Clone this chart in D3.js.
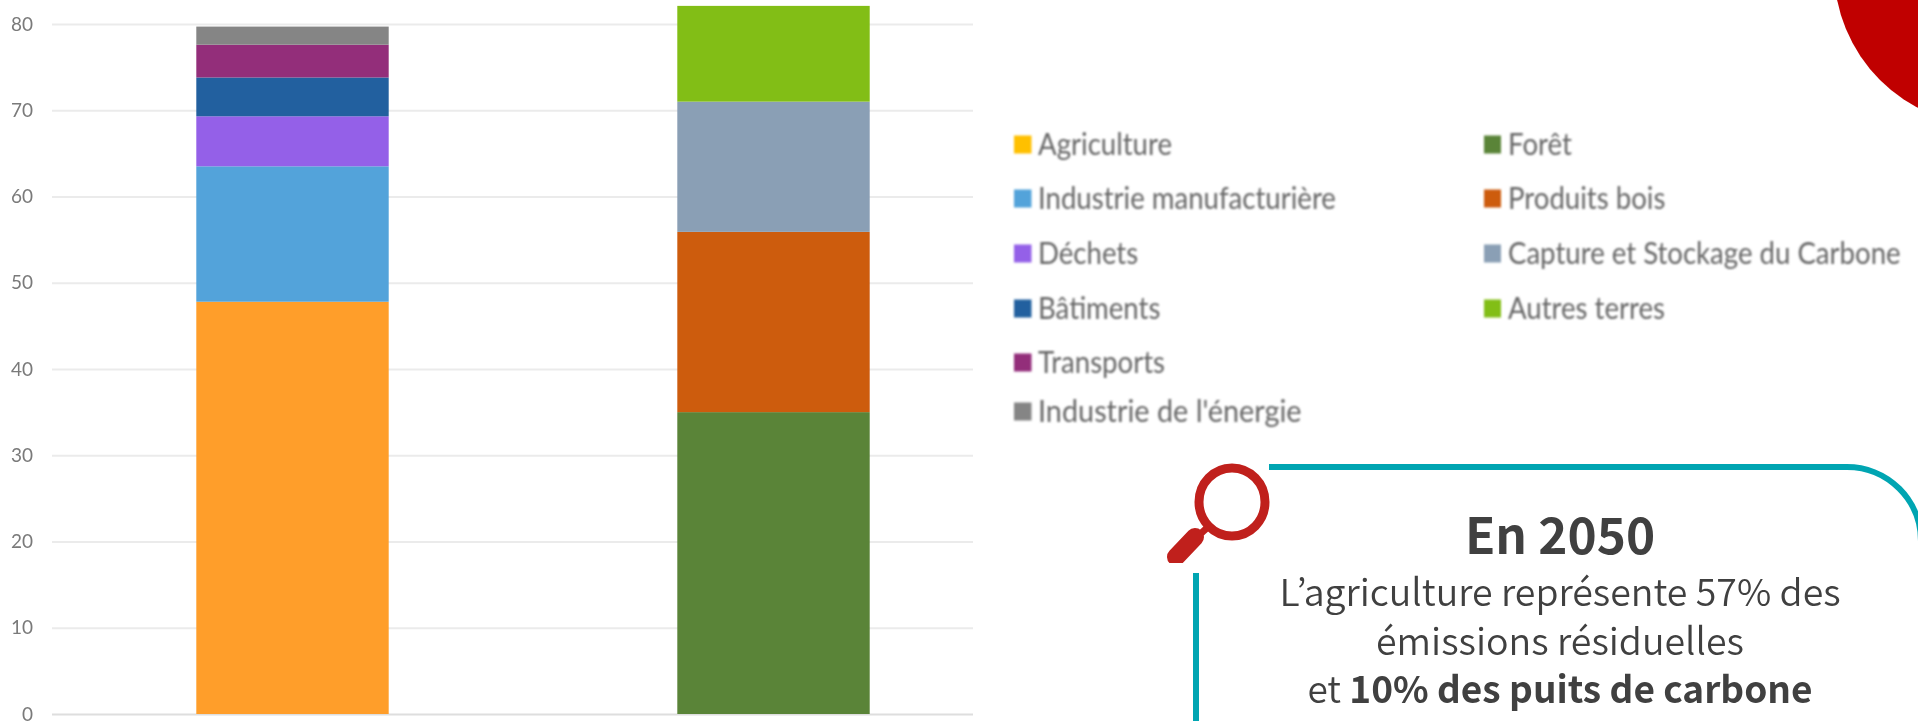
<!DOCTYPE html>
<html><head><meta charset="utf-8">
<script src="https://cdn.jsdelivr.net/npm/d3@7"></script>
<style>html,body{margin:0;padding:0;background:#fff;overflow:hidden}svg{display:block}</style>
</head><body><div id="c"></div>
<script>
const categories = ["Émissions", "Puits"];
const seriesNames = ["Agriculture","Industrie manufacturière","Déchets","Bâtiments","Transports","Industrie de l'énergie","Forêt","Produits bois","Capture et Stockage du Carbone","Autres terres"];
const emissions = [47.8,15.7,5.8,4.5,3.8,2.1,0,0,0,0];
const puits = [0,0,0,0,0,0,35,20.9,15.1,11.1];
const barColors = ["#FF9E2C","#52A3DA","#9460E8","#21619F","#932D7A","#858585","#5A8437","#CD5C10","#8A9FB5","#82BE12"];
const legendColors = ["#FFC000","#52A3DA","#9460E8","#21619F","#932D7A","#858585","#5A8437","#CD5C10","#8A9FB5","#82BE12"];
const yTicks = [0,10,20,30,40,50,60,70,80];
const calloutTitle = "En 2050";
const calloutLine1 = "L’agriculture représente 57% des";
const calloutLine2 = "émissions résiduelles";
const calloutLine3a = "et ";
const calloutLine3b = "10% des puits de carbone";

const W=1918,H=721;
const svg=d3.select("#c").append("svg").attr("width",W).attr("height",H);
const defs=svg.append("defs");
defs.append("filter").attr("id","b1").append("feGaussianBlur").attr("stdDeviation",0.55);
defs.append("filter").attr("id","b2").attr("x","-5%").attr("width","110%").attr("y","-30%").attr("height","160%").append("feGaussianBlur").attr("stdDeviation",0.9);

const x=d3.scaleBand().domain(categories).range([52,1014]).paddingInner(0.6).paddingOuter(0.3);
const y=d3.scaleLinear().domain([0,80]).range([714,24]);
const gridRight=973;

const chart=svg.append("g").attr("filter","url(#b1)");
const axis=chart.append("g").attr("transform","translate(52,0)").call(d3.axisLeft(y).tickValues(yTicks).tickSize(-(gridRight-52)).tickPadding(19));
axis.select(".domain").remove();
axis.selectAll(".tick line").attr("stroke",d=>d===0?"#dedede":"#ebebeb").attr("stroke-width",2);
axis.selectAll(".tick text").attr("fill","#7a7a7a").attr("font-family","Lato").attr("font-size",19).attr("text-anchor","end");

const table=categories.map((c,i)=>{const o={cat:c};seriesNames.forEach((s,j)=>o[s]=(i===0?emissions:puits)[j]);return o;});
const stacked=d3.stack().keys(seriesNames)(table);
chart.selectAll("g.s").data(stacked).join("g").attr("class","s").attr("fill",(d,i)=>barColors[i])
 .selectAll("rect").data(d=>d).join("rect")
 .attr("x",d=>x(d.data.cat)).attr("width",x.bandwidth())
 .attr("y",d=>y(d[1])).attr("height",d=>y(d[0])-y(d[1]));

// legend
const legRows=[144,198,253,308,362,411];
const legend=svg.append("g").attr("filter","url(#b2)");
seriesNames.forEach((s,i)=>{
  const col=i<6?0:1, row=i<6?i:i-6;
  const sx=col?1484:1014, cy=legRows[row];
  legend.append("rect").attr("x",sx).attr("y",cy-8.5).attr("width",col?17:17.5).attr("height",18).attr("fill",legendColors[i]);
  legend.append("text").attr("transform",`translate(${sx+24},${cy+11}) scale(${row===5?0.93:0.89},1)`)
   .attr("font-family","Lato").attr("font-size",31).attr("fill","#666").text(s);
});

// red corner
svg.append("circle").attr("cx",1991).attr("cy",-31).attr("r",157).attr("fill","#C00000");

// callout frame
const teal="#00A5B2";
const frame=d3.path();
frame.moveTo(1269,467);frame.lineTo(1847,467);frame.arcTo(1921,467,1921,541,74);
svg.append("path").attr("d",frame.toString()).attr("fill","none").attr("stroke",teal).attr("stroke-width",6);
const frame2=d3.path();frame2.moveTo(1196,573);frame2.lineTo(1196,721);
svg.append("path").attr("d",frame2.toString()).attr("fill","none").attr("stroke",teal).attr("stroke-width",6);

// magnifier
const red="#C0201C";
svg.append("ellipse").attr("cx",1232).attr("cy",502).attr("rx",33).attr("ry",34).attr("fill","none").attr("stroke",red).attr("stroke-width",9);
const clip=defs.append("clipPath").attr("id","mc");clip.append("rect").attr("x",1150).attr("y",450).attr("width",120).attr("height",113);
const mg=svg.append("g").attr("clip-path","url(#mc)");
const neck=d3.path();neck.moveTo(1208,527);neck.lineTo(1197,537);
mg.append("path").attr("d",neck.toString()).attr("stroke",red).attr("stroke-width",7).attr("fill","none");
const handle=d3.path();handle.moveTo(1195,537);handle.lineTo(1176,557);
mg.append("path").attr("d",handle.toString()).attr("stroke",red).attr("stroke-width",18).attr("stroke-linecap","round").attr("fill","none");

// callout text
const cjk="'Noto Sans CJK KR','Noto Sans',sans-serif";
const t=svg.append("g").attr("font-family",cjk).attr("fill","#404040").attr("text-anchor","middle");
t.append("text").attr("x",1560).attr("y",554).attr("font-size",49.5).attr("font-weight",700).text(calloutTitle);
t.append("text").attr("x",1560).attr("y",606).attr("font-size",37.5).attr("font-weight",350).text(calloutLine1);
t.append("text").attr("x",1560).attr("y",654.5).attr("font-size",37.5).attr("font-weight",350).text(calloutLine2);
const l3=t.append("text").attr("x",1560).attr("y",703).attr("font-size",37);
l3.append("tspan").attr("font-weight",350).text(calloutLine3a);
l3.append("tspan").attr("font-weight",700).text(calloutLine3b);
</script></body></html>
